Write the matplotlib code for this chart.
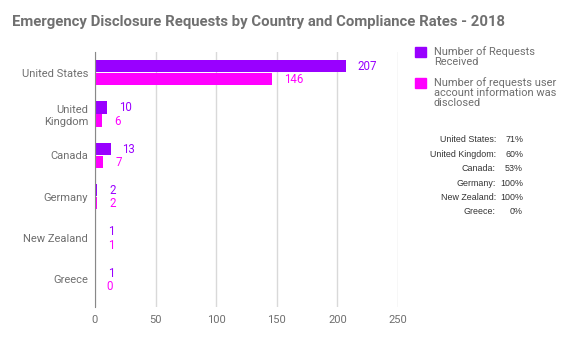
import numpy as np
import matplotlib.pyplot as plt
from matplotlib.patches import Rectangle

countries = ['United States', 'United\nKingdom', 'Canada', 'Germany', 'New Zealand', 'Greece']
received = [207, 10, 13, 2, 1, 1]
disclosed = [146, 6, 7, 2, 1, 0]
rate_names = ['United States:', 'United Kingdom:', 'Canada:', 'Germany:', 'New Zealand:', 'Greece:']
rate_values = ['71%', '60%', '53%', '100%', '100%', '0%']
series_labels = ['Number of Requests\nReceived',
                 'Number of requests user\naccount information was\ndisclosed']

purple = '#9900ff'
magenta = '#ff00ff'
gray = '#6f6f6f'

plt.rcParams['font.family'] = ['Roboto', 'DejaVu Sans']

fig = plt.figure(figsize=(5.82, 3.47), dpi=100)
ax = fig.add_axes([95 / 582, 1 - 307 / 347, 303 / 582, 255 / 347])

y = np.arange(len(countries))
h = 0.3
ax.barh(y - h / 2 - 0.01, received, height=h, color=purple, zorder=3)
ax.barh(y + h / 2 + 0.01, disclosed, height=h, color=magenta, zorder=3)

for yi, r, d in zip(y, received, disclosed):
    ax.annotate(str(r), (r, yi - h / 2), xytext=(8.5, 0), textcoords='offset points',
                color=purple, fontsize=8.3, va='center', ha='left')
    ax.annotate(str(d), (d, yi + h / 2 + 0.02), xytext=(8.5, 0), textcoords='offset points',
                color=magenta, fontsize=8.3, va='center', ha='left')

ax.set_xlim(0, 250)
# a little extra room below the last group
ax.set_ylim(len(countries) - 0.5 + 0.17, -0.5)
ax.set_xticks([0, 50, 100, 150, 200, 250])
ax.set_yticks(y)
ax.set_yticklabels(countries)
ax.tick_params(axis='both', length=0, colors=gray, labelsize=8)
ax.tick_params(axis='x', pad=6)
ax.tick_params(axis='y', pad=5)
ax.xaxis.grid(True, color='#d9d9d9', linewidth=1, zorder=0)
for side in ['top', 'right', 'bottom']:
    ax.spines[side].set_visible(False)
ax.spines['left'].set_color('#888888')
ax.spines['left'].set_zorder(4)

fig.text(12 / 582, 1 - 22 / 347,
         'Emergency Disclosure Requests by Country and Compliance Rates - 2018',
         fontsize=10.7, fontweight='bold', color='#707070', va='center', ha='left')

# legend
for i, (lab, col) in enumerate(zip(series_labels, [purple, magenta])):
    ly = [47, 78][i]
    fig.patches.append(Rectangle((415 / 582, 1 - (ly + 10) / 347), 11 / 582, 10 / 347,
                                 transform=fig.transFigure, color=col))
    fig.text(434 / 582, 1 - (ly - 1) / 347, lab, fontsize=7.9, color=gray,
             va='top', ha='left', linespacing=1.0)

# compliance rates
for i, (n, v) in enumerate(zip(rate_names, rate_values)):
    ty = 1 - (140 + i * 14.4) / 347
    fig.text(496 / 582, ty, n, fontsize=6.4, color='#333333', ha='right', va='center',
             family=['Liberation Sans'])
    fig.text(523 / 582, ty, v, fontsize=6.4, color='#333333', ha='right', va='center',
             family=['Liberation Sans'])

fig.savefig('out.png', dpi=100, facecolor='white')
